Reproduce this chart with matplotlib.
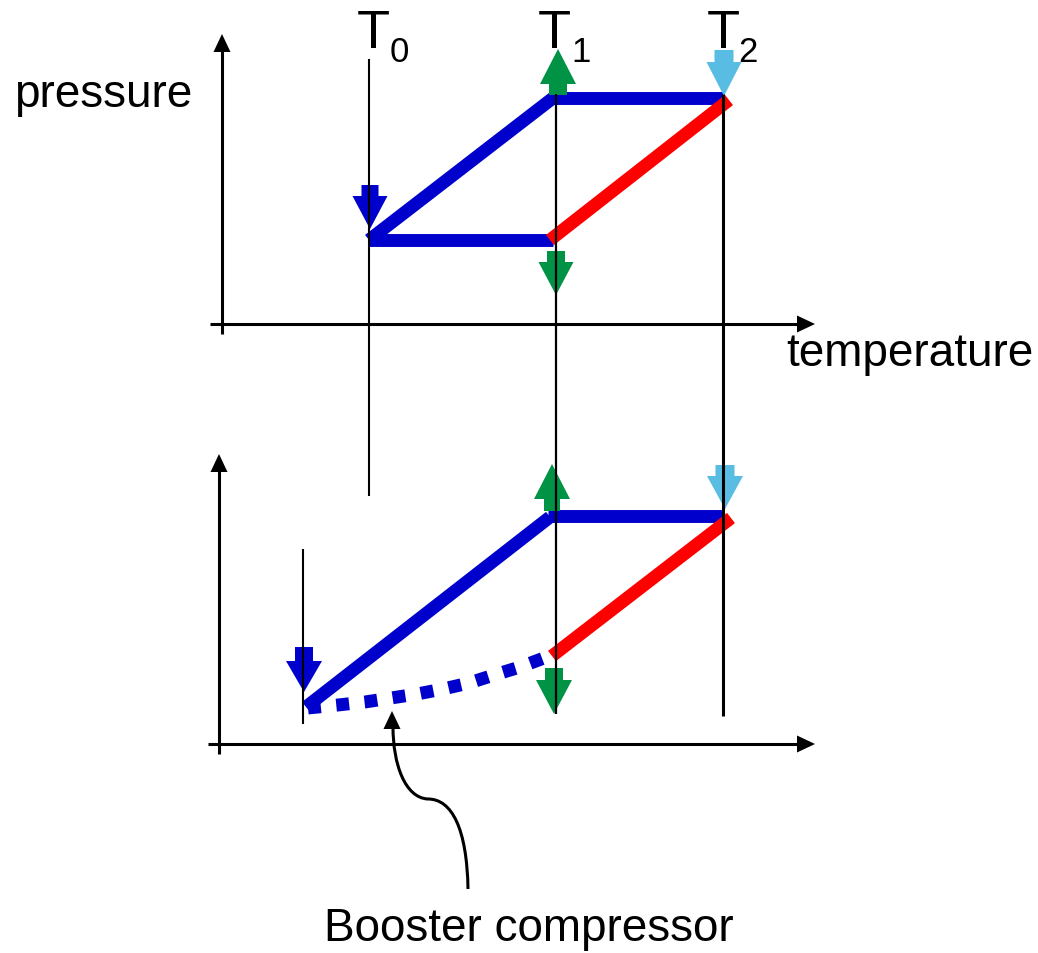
import matplotlib
matplotlib.use("Agg")
import matplotlib.pyplot as plt
from matplotlib.path import Path
from matplotlib.patches import PathPatch, Polygon

plt.rcParams['font.family'] = ['Liberation Sans', 'DejaVu Sans']

# ---------------- data (diagram coordinates, y grows downward) ----------------
T_x = [369, 556, 723]                 # T0, T1, T2 reference lines
T_labels = ["T", "T", "T"]
T_subs = ["0", "1", "2"]
T_label_x = [357, 538, 707]
T_sub_x = [390, 571, 738]

# top cycle
top_low_p = 241
top_high_p = 99
top_blue_x = [[553, 369], [369, 553], [550, 723]]
top_blue_y = [[top_low_p, top_low_p], [top_low_p, top_high_p], [top_high_p, top_high_p]]
top_red_x = [550, 729]
top_red_y = [top_low_p, 101]

# bottom cycle
bot_blue_x = [[306, 550], [548, 724]]
bot_blue_y = [[708, 518], [517, 517]]
bot_red_x = [552, 731]
bot_red_y = [657, 519]
booster_x = [308, 338, 365, 391, 417, 443, 469, 494, 520, 552]
booster_y = [709, 706, 703, 699, 695, 690, 684, 676, 668, 656]

# block arrows: (x, tail_y, tip_y, shaft_w, head_w, head_len, color)
BLUE = "#0000CC"
RED = "#FF0000"
GREEN = "#009245"
LBLUE = "#59BDE3"
block_arrows = [
    (370, 186, 230, 17, 35, 33, BLUE),
    (558, 96, 50, 18, 36, 35, GREEN),
    (556, 252, 296, 18, 35, 33, GREEN),
    (724, 51, 97, 19, 35, 34, LBLUE),
    (304, 648, 693, 18, 36, 31, BLUE),
    (552, 512, 465, 16, 36, 35, GREEN),
    (554, 669, 715, 18, 36, 34, GREEN),
    (725, 466, 510, 19, 36, 33, LBLUE),
]

# thin vertical lines: (x, y_top, y_bottom, width)
thin_lines = [
    (369, 60, 497, 1.5),
    (556, 95, 715, 1.6),
    (723, 95, 717, 2.2),
    (303, 550, 725, 1.5),
]

# axes: (x0 of vertical, y0 of horizontal, x_start, x_tip, y_bottom, y_tip)
axes_frames = [
    (222, 325, 210, 815, 335, 35),
    (219, 745, 208, 815, 755, 455),
]

# ---------------- drawing ----------------
fig = plt.figure(figsize=(10.38, 9.54), dpi=100)
ax = fig.add_axes([0, 0, 1, 1])
ax.set_xlim(0, 1038)
ax.set_ylim(954, 0)
ax.axis("off")


def tri_head(ax, tipx, tipy, dirx, diry, length, width, color="black", z=5):
    # triangle arrowhead
    bx, by = tipx - dirx * length, tipy - diry * length
    px, py = -diry, dirx
    pts = [(tipx, tipy), (bx + px * width / 2, by + py * width / 2),
           (bx - px * width / 2, by - py * width / 2)]
    ax.add_patch(Polygon(pts, closed=True, color=color, lw=0, zorder=z))


for (vx, hy, xs, xt, yb, yt) in axes_frames:
    ax.plot([xs, xt - 10], [hy, hy], color="black", lw=2.2, solid_capstyle="butt", zorder=4)
    tri_head(ax, xt, hy, 1, 0, 18, 17)
    ax.plot([vx, vx], [yb, yt + 10], color="black", lw=2.2, solid_capstyle="butt", zorder=4)
    tri_head(ax, vx, yt, 0, -1, 18, 17)

LW = 9.3
for xs, ys in zip(top_blue_x, top_blue_y):
    ax.plot(xs, ys, color=BLUE, lw=LW, solid_capstyle="butt", zorder=2)
ax.plot(top_red_x, top_red_y, color=RED, lw=LW, solid_capstyle="butt", zorder=3)

for xs, ys in zip(bot_blue_x, bot_blue_y):
    ax.plot(xs, ys, color=BLUE, lw=LW, solid_capstyle="butt", zorder=2)
ax.plot(bot_red_x, bot_red_y, color=RED, lw=LW, solid_capstyle="butt", zorder=3)
ax.plot(booster_x, booster_y, color=BLUE, lw=LW, linestyle=(0, (1.0, 1.2)),
        dash_capstyle="butt", zorder=2)

for (x, tail, tip, sw, hw, hl, c) in block_arrows:
    d = 1 if tip > tail else -1
    base = tip - d * hl
    pts = [(x - sw / 2, tail), (x + sw / 2, tail), (x + sw / 2, base),
           (x + hw / 2, base), (x, tip), (x - hw / 2, base), (x - sw / 2, base)]
    ax.add_patch(Polygon(pts, closed=True, color=c, lw=0, zorder=4))

for (x, y0, y1, w) in thin_lines:
    ax.plot([x, x], [y0, y1], color="black", lw=w, solid_capstyle="butt", zorder=6)

# booster pointer curve
verts = [(468, 890), (467, 830), (452, 800), (428, 800),
         (405, 799), (393, 765), (393, 728)]
codes = [Path.MOVETO, Path.CURVE4, Path.CURVE4, Path.CURVE4,
         Path.CURVE4, Path.CURVE4, Path.CURVE4]
ax.add_patch(PathPatch(Path(verts, codes), fill=False, edgecolor="black", lw=2.2, zorder=5))
tri_head(ax, 392, 712, 0, -1, 18, 17)

# texts
for lx, sx, t, s in zip(T_label_x, T_sub_x, T_labels, T_subs):
    ax.text(lx, 48, t, fontsize=39, ha="left", va="baseline", color="black")
    ax.text(sx, 62, s, fontsize=25, ha="left", va="baseline", color="black")

ax.text(14, 107, "pressure", fontsize=33, ha="left", va="baseline")
ax.text(786, 366, "temperature", fontsize=33, ha="left", va="baseline")
ax.text(529, 941, "Booster compressor", fontsize=33, ha="center", va="baseline")

fig.savefig("out.png", dpi=100)
